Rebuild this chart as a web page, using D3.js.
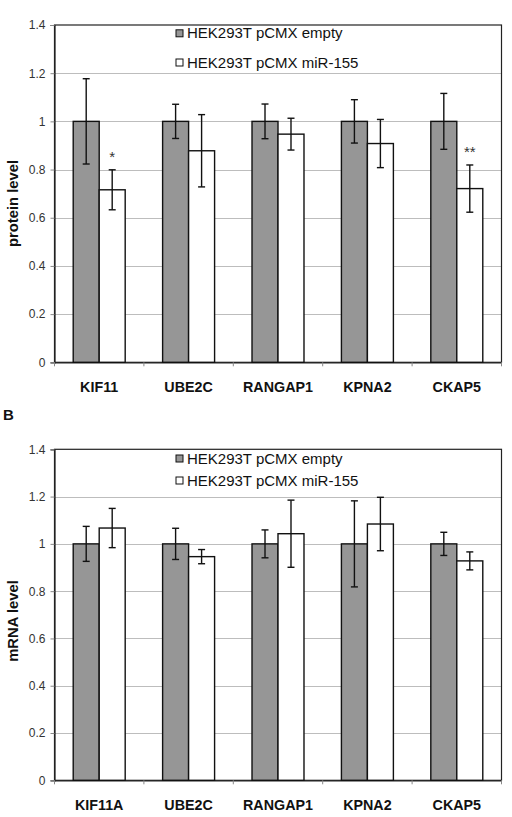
<!DOCTYPE html>
<html>
<head>
<meta charset="utf-8">
<script src="https://cdn.jsdelivr.net/npm/d3@7"></script>
<style>
  html, body { margin: 0; padding: 0; background: #fff; }
  svg { display: block; font-family: "Liberation Sans", Arial, sans-serif; }
</style>
</head>
<body>
<svg id="chart" width="512" height="817"></svg>
<script>
// ---------- data ----------
const seriesNames = ["HEK293T pCMX empty", "HEK293T pCMX miR-155"];

const proteinCategories = ["KIF11", "UBE2C", "RANGAP1", "KPNA2", "CKAP5"];
const proteinEmpty      = [1, 1, 1, 1, 1];
const proteinEmptyErr   = [0.177, 0.071, 0.072, 0.090, 0.116];
const proteinMir        = [0.716, 0.878, 0.947, 0.908, 0.721];
const proteinMirErr     = [0.083, 0.150, 0.066, 0.100, 0.098];
const proteinSignif     = ["*", "", "", "", "**"];

const mrnaCategories = ["KIF11A", "UBE2C", "RANGAP1", "KPNA2", "CKAP5"];
const mrnaEmpty      = [1, 1, 1, 1, 1];
const mrnaEmptyErr   = [0.074, 0.066, 0.059, 0.182, 0.049];
const mrnaMir        = [1.067, 0.946, 1.043, 1.084, 0.928];
const mrnaMirErr     = [0.083, 0.030, 0.142, 0.113, 0.038];

const yTickValues = [0, 0.2, 0.4, 0.6, 0.8, 1.0, 1.2, 1.4];
const yTickLabels = ["0", "0.2", "0.4", "0.6", "0.8", "1", "1.2", "1.4"];

// ---------- drawing ----------
const svg = d3.select("#chart");
const FILLS = ["#969696", "#ffffff"];

function drawPanel(opts) {
  const { top, bottom, left, right, categories, vals, errs, signif, yLabel, yLabelCenter, legendY } = opts;
  const g = svg.append("g");

  const x = d3.scaleBand().domain(categories).range([left, right]).paddingInner(0).paddingOuter(0);
  const xs = d3.scaleBand().domain([0, 1]).range([0, x.bandwidth()]).paddingInner(0).paddingOuter(0.72);
  const y = d3.scaleLinear().domain([0, 1.4]).range([bottom, top]);

  // gridlines
  g.append("g").selectAll("line").data(yTickValues.filter(v => v > 0 && v < 1.4)).join("line")
    .attr("x1", left).attr("x2", right)
    .attr("y1", d => Math.round(y(d)) + 0.5).attr("y2", d => Math.round(y(d)) + 0.5)
    .attr("stroke", "#bdbdbd").attr("stroke-width", 1);

  // frame
  g.append("rect").attr("x", left).attr("y", top).attr("width", right - left).attr("height", bottom - top)
    .attr("fill", "none").attr("stroke", "#222").attr("stroke-width", 1.2);

  // y axis
  const yAxis = d3.axisLeft(y).tickValues(yTickValues).tickFormat((d, i) => yTickLabels[i]).tickSize(4).tickPadding(5);
  const ya = g.append("g").attr("transform", `translate(${left},0)`).call(yAxis);
  ya.select(".domain").attr("stroke", "#222").attr("stroke-width", 1.2);
  ya.selectAll(".tick line").attr("stroke", "#888");
  ya.selectAll(".tick text").attr("font-size", 12).attr("fill", "#333")
    .attr("font-family", "Liberation Sans, Arial, sans-serif");

  // x axis
  const xAxis = d3.axisBottom(x).tickSize(0).tickPadding(20);
  const xa = g.append("g").attr("transform", `translate(0,${bottom})`).call(xAxis);
  xa.select(".domain").attr("stroke", "#222").attr("stroke-width", 1.2);
  xa.selectAll(".tick text").attr("font-size", 14.3).attr("font-weight", "bold").attr("fill", "#111")
    .attr("font-family", "Liberation Sans, Arial, sans-serif");
  // category boundary tick marks
  const bounds = categories.map(c => x(c)).concat([right]);
  g.append("g").selectAll("line").data(bounds).join("line")
    .attr("x1", d => d).attr("x2", d => d).attr("y1", bottom).attr("y2", bottom + 4)
    .attr("stroke", "#888");

  // bars
  const rows = [];
  categories.forEach((c, i) => {
    [0, 1].forEach(s => rows.push({ c, s, v: vals[s][i], e: errs[s][i], i }));
  });
  const bx = d => x(d.c) + xs(d.s);
  g.append("g").selectAll("rect").data(rows).join("rect")
    .attr("x", bx).attr("width", xs.bandwidth())
    .attr("y", d => y(d.v)).attr("height", d => y(0) - y(d.v))
    .attr("fill", d => FILLS[d.s]).attr("stroke", "#111").attr("stroke-width", 1.4);

  // error bars
  const eg = g.append("g").attr("stroke", "#111").attr("stroke-width", 1.4);
  rows.forEach(d => {
    const cx = bx(d) + xs.bandwidth() / 2;
    eg.append("line").attr("x1", cx).attr("x2", cx).attr("y1", y(d.v + d.e)).attr("y2", y(d.v - d.e));
    eg.append("line").attr("x1", cx - 3.5).attr("x2", cx + 3.5).attr("y1", y(d.v + d.e)).attr("y2", y(d.v + d.e));
    eg.append("line").attr("x1", cx - 3.5).attr("x2", cx + 3.5).attr("y1", y(d.v - d.e)).attr("y2", y(d.v - d.e));
  });

  // significance marks
  if (signif) {
    rows.filter(d => d.s === 1 && signif[d.i]).forEach(d => {
      g.append("text").attr("x", bx(d) + xs.bandwidth() / 2).attr("y", y(d.v + d.e) - 7.5)
        .attr("text-anchor", "middle").attr("font-size", 15).attr("fill", "#333").text(signif[d.i]);
    });
  }

  // legend
  const lg = g.append("g");
  seriesNames.forEach((name, s) => {
    const cy = legendY[s];
    lg.append("rect").attr("x", 176).attr("y", cy - 3.5).attr("width", 7).attr("height", 7)
      .attr("fill", FILLS[s]).attr("stroke", "#111").attr("stroke-width", 1);
    lg.append("text").attr("x", 187).attr("y", cy + 5).attr("font-size", 15).attr("fill", "#111").text(name);
  });

  // y label
  g.append("text").attr("transform", `translate(${18},${yLabelCenter}) rotate(-90)`)
    .attr("text-anchor", "middle").attr("font-size", 14.8).attr("font-weight", "bold").attr("fill", "#111")
    .text(yLabel);
}

drawPanel({
  top: 25, bottom: 362.3, left: 54.5, right: 501.5,
  categories: proteinCategories,
  vals: [proteinEmpty, proteinMir], errs: [proteinEmptyErr, proteinMirErr],
  signif: proteinSignif, yLabel: "protein level", yLabelCenter: 203.5,
  legendY: [33.3, 62.5]
});

drawPanel({
  top: 449.3, bottom: 780.3, left: 54.5, right: 501.5,
  categories: mrnaCategories,
  vals: [mrnaEmpty, mrnaMir], errs: [mrnaEmptyErr, mrnaMirErr],
  signif: null, yLabel: "mRNA level", yLabelCenter: 621,
  legendY: [458.5, 480.5]
});

svg.append("text").attr("x", 3).attr("y", 420).attr("font-size", 15).attr("font-weight", "bold")
  .attr("fill", "#111").text("B");
</script>
</body>
</html>
